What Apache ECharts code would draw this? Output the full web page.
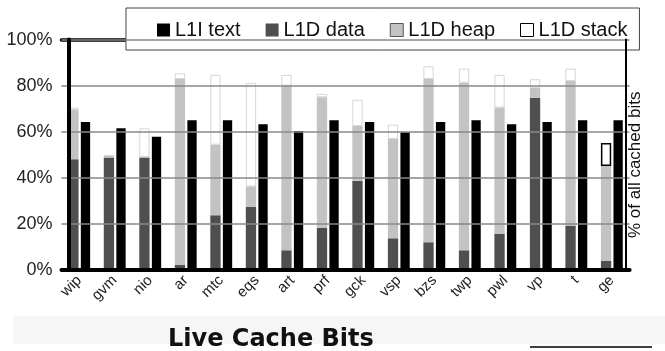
<!DOCTYPE html>
<html><head><meta charset="utf-8">
<script src="https://cdn.jsdelivr.net/npm/echarts@6/dist/echarts.min.js"></script>
<style>html,body{margin:0;padding:0;background:#fff}#c{width:665px;height:351px}</style>
</head><body><div id="c"></div>
<script>
// Benchmarks (labels are only partly legible in the source image)
const categories = ["wip","gvm","nio","ar","mtc","eqs","art","prf","gck","vsp","bzs","twp","pwl","vp","t","ge"];
// % of all cached bits
const l1iText  = [64.3, 61.5, 57.9, 65.0, 65.0, 63.3, 60.3, 65.0, 64.2, 59.8, 64.2, 65.0, 63.3, 64.2, 65.0, 65.0];
const l1dData  = [48.1, 48.8, 48.8, 2.2, 23.8, 27.5, 8.6, 18.4, 38.8, 13.8, 12.1, 8.6, 15.8, 74.7, 19.3, 4.0];
const l1dHeap  = [21.6, 0.7, 0.3, 80.7, 30.6, 8.8, 71.4, 56.6, 23.7, 43.1, 70.8, 72.7, 54.7, 4.5, 62.7, 41.2];
const l1dStack = [0.7, 0.4, 12.4, 2.5, 30.3, 44.9, 4.7, 1.5, 11.4, 6.2, 5.5, 6.1, 14.2, 3.6, 5.4, 9.9];
const yTickStep = 20;

const chart = echarts.init(document.getElementById('c'), null, {renderer: 'canvas'});
const lastIdx = l1dStack.length - 1;
const option = {
  animation: false,
  backgroundColor: '#fff',
  textStyle: {fontFamily: 'Liberation Sans, Arial, sans-serif'},
  title: {
    text: 'Live Cache Bits', left: 163, top: 323,
    textStyle: {fontFamily: 'DejaVu Sans', fontWeight: 'bold', fontSize: 24, color: '#111'}
  },
  graphic: [
    {type: 'rect', silent: true, z: -1, shape: {x: 13, y: 316, width: 652, height: 28}, style: {fill: '#f6f6f6'}},
    {type: 'line', silent: true, shape: {x1: 530, y1: 347, x2: 652, y2: 347}, style: {stroke: '#000', lineWidth: 1.5}}
  ],
  legend: {
    data: [
      {name: 'L1I text'},
      {name: 'L1D data'},
      {name: 'L1D heap', itemStyle: {borderColor: '#555', borderWidth: 1}},
      {name: 'L1D stack', itemStyle: {borderColor: '#000', borderWidth: 1}}
    ],
    left: 126, top: 8, padding: [12, 12, 10, 31], z: 4,
    itemGap: 25, itemWidth: 13, itemHeight: 13, icon: 'rect',
    backgroundColor: '#fff', borderColor: '#444', borderWidth: 1,
    selectedMode: false,
    textStyle: {fontSize: 20, color: '#111', fontFamily: 'Liberation Sans'}
  },
  grid: {left: 61.45, right: 35.4, top: 39.6, bottom: 80.9, containLabel: false},
  xAxis: [
    {
      type: 'category', data: categories, z: 5,
      axisLine: {onZero: false, lineStyle: {color: '#000', width: 4}},
      axisTick: {show: false},
      axisLabel: {interval: 0, rotate: 45, fontSize: 15, color: '#222', margin: 8}
    },
    {
      type: 'category', position: 'top', data: categories, z: 0,
      axisLine: {onZero: false, lineStyle: {color: '#000', width: 3.5}},
      axisTick: {show: false}, axisLabel: {show: false}
    }
  ],
  yAxis: [
    {
      type: 'value', min: 0, max: 100, interval: yTickStep, offset: -7, z: 5,
      axisLine: {show: true, onZero: false, lineStyle: {color: '#000', width: 4}},
      axisTick: {show: false},
      axisLabel: {formatter: '{value}%', fontSize: 18, color: '#222', margin: 16},
      splitLine: {lineStyle: {color: '#888', width: 1.5}}
    },
    {
      type: 'value', position: 'right', min: 0, max: 100, interval: yTickStep, offset: -4, z: 5,
      axisLine: {show: true, onZero: false, lineStyle: {color: '#000', width: 2}},
      axisTick: {show: false}, axisLabel: {show: false}, splitLine: {show: false},
      name: '% of all cached bits', nameLocation: 'middle', nameRotate: 90, nameGap: 1,
      nameTextStyle: {fontSize: 17, color: '#111', padding: [0, 20, 0, 0]}
    }
  ],
  series: [
    {name: 'L1D data', type: 'bar', stack: 'L1D', barWidth: 10.3, barGap: '22%', data: l1dData,
     itemStyle: {color: '#4f4f4f'}},
    {name: 'L1D heap', type: 'bar', stack: 'L1D', barWidth: 10.3, barGap: '22%', data: l1dHeap,
     itemStyle: {color: '#c3c3c3'}},
    {name: 'L1D stack', type: 'bar', stack: 'L1D', barWidth: 10.3, barGap: '22%',
     data: l1dStack.map((v, i) => i === lastIdx ? {value: v, itemStyle: {borderColor: '#000', borderWidth: 1.5}} : v),
     itemStyle: {color: '#fff', borderColor: '#d6d6d6', borderWidth: 1}},
    {name: 'L1I text', type: 'bar', barWidth: 9.3, barGap: '22%', data: l1iText,
     itemStyle: {color: '#000'}}
  ]
};
chart.setOption(option);
</script>
</body></html>
